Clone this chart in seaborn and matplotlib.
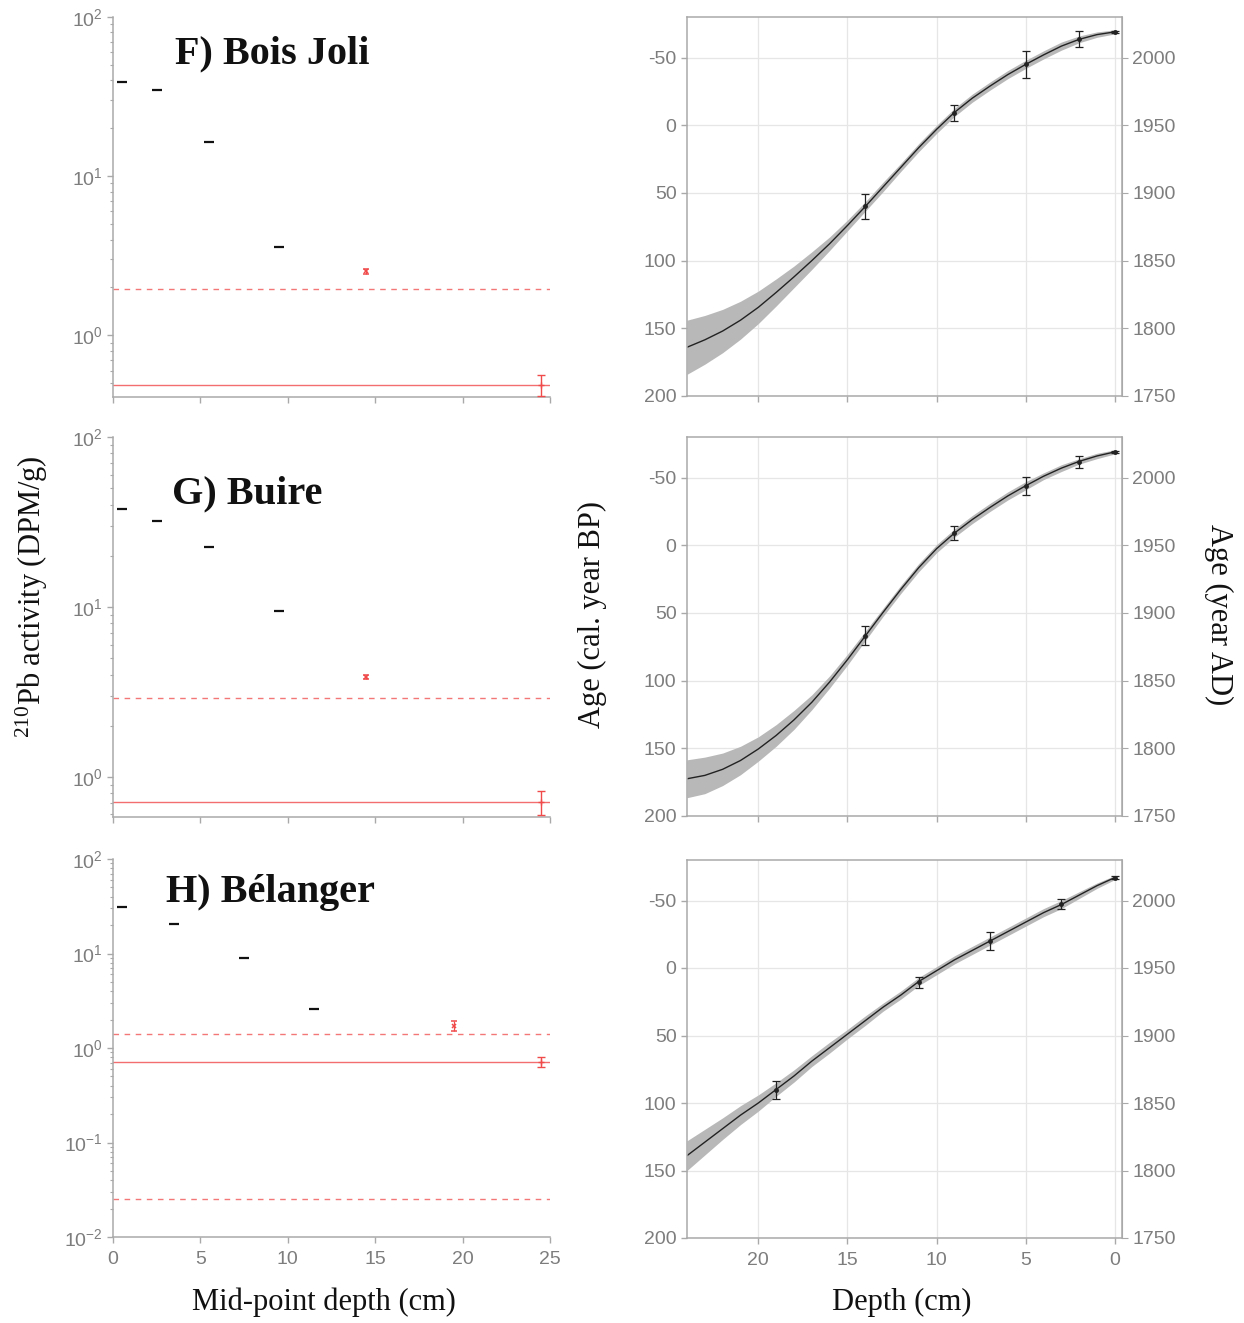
import numpy as np
import pandas as pd
import matplotlib
matplotlib.use("Agg")
import matplotlib.pyplot as plt
import seaborn as sns
from matplotlib.ticker import LogLocator, NullFormatter

sns.set_style("ticks")
plt.rcParams["font.family"] = ["Liberation Sans", "DejaVu Sans"]
plt.rcParams["mathtext.default"] = "regular"
plt.rcParams["axes.unicode_minus"] = False

SERIF = ["Liberation Serif", "DejaVu Serif"]
TICK_GREY = "#7d7d7d"
SPINE_GREY = "#a9a9a9"
RED = "#f04a4a"
LABEL_PT = 22
TICK_PT = 14

site_names = ["F) Bois Joli", "G) Buire", "H) Bélanger"]

# ---- 210Pb activity profiles (DPM/g) ----
bj_pb_depth = [0.5, 2.5, 5.5, 9.5]
bj_pb_activity = [39.0, 35.0, 16.3, 3.6]
bj_excess_depth = [14.5]
bj_excess_activity = [2.52]
bj_excess_err = [0.08]
bj_base_depth = [24.5]
bj_base_activity = [0.49]
bj_base_err = [0.075]
bj_dashed = [1.95]

bu_pb_depth = [0.5, 2.5, 5.5, 9.5]
bu_pb_activity = [37.7, 32.0, 22.5, 9.4]
bu_excess_depth = [14.5]
bu_excess_activity = [3.85]
bu_excess_err = [0.1]
bu_base_depth = [24.5]
bu_base_activity = [0.71]
bu_base_err = [0.115]
bu_dashed = [2.92]

be_pb_depth = [0.5, 3.5, 7.5, 11.5]
be_pb_activity = [31.0, 20.5, 9.0, 2.6]
be_excess_depth = [19.5]
be_excess_activity = [1.71]
be_excess_err = [0.2]
be_base_depth = [24.5]
be_base_activity = [0.715]
be_base_err = [0.085]
be_dashed = [1.42, 0.025]

pb_ylims = [(0.41, 100), (0.58, 100), (0.01, 100)]

# ---- age-depth models (cal. year BP) ----
model_depth = list(range(0, 25))
bj_age_mean = [-69, -67, -63.5, -58.5, -52, -45, -37.5, -29, -20, -9.5, 3,
               16.5, 31, 45.5, 60, 74, 87.5, 100, 112, 123.5, 134.5, 144,
               152, 158.5, 164]
bj_age_half = [1.5, 2, 2.5, 3, 3, 3, 3, 3, 3, 3, 3, 3, 3, 3.5, 3.5, 4, 5,
               6.5, 8, 10, 12, 14, 16, 18, 20]
bu_age_mean = [-69, -66, -62, -57, -51, -44, -36.5, -28, -19, -9, 2.5, 16.5,
               32.5, 49.5, 67, 84.5, 101, 116, 129, 140.5, 150.5, 159, 165.5,
               170, 172.5]
bu_age_half = [1.5, 2, 2, 2.5, 2.5, 3, 3, 3, 3, 3, 3, 3, 3, 3, 3.5, 4, 4.5,
               5.5, 7, 8, 9, 10.5, 12, 13.5, 14]
be_age_mean = [-67, -61, -54, -47, -41, -34, -27, -20, -13, -6, 2, 10, 20,
               29, 39, 49, 59, 69, 80, 90, 100, 109, 119, 129, 139]
be_age_half = [1.5, 2, 2.5, 3, 3, 3, 3, 3, 3, 3, 3, 3, 3, 3, 3.5, 3.5, 4, 4,
               4.5, 5, 6, 7, 8, 9.5, 11]

bj_date_depth = [0, 2, 5, 9, 14]
bj_date_age = [-69, -64, -45, -9, 60]
bj_date_err = [1, 6, 10, 6, 9.5]
bu_date_depth = [0, 2, 5, 9, 14]
bu_date_age = [-69, -61.5, -44, -9, 67]
bu_date_err = [1, 4.5, 6.5, 5, 7]
be_date_depth = [0, 3, 7, 11, 19]
be_date_age = [-67, -47.5, -20, 10.5, 90.5]
be_date_err = [1, 3.5, 7, 4, 6.5]

pb_sets = [
    (bj_pb_depth, bj_pb_activity, bj_excess_depth, bj_excess_activity, bj_excess_err,
     bj_base_depth, bj_base_activity, bj_base_err, bj_dashed),
    (bu_pb_depth, bu_pb_activity, bu_excess_depth, bu_excess_activity, bu_excess_err,
     bu_base_depth, bu_base_activity, bu_base_err, bu_dashed),
    (be_pb_depth, be_pb_activity, be_excess_depth, be_excess_activity, be_excess_err,
     be_base_depth, be_base_activity, be_base_err, be_dashed),
]
age_sets = [
    (bj_age_mean, bj_age_half, bj_date_depth, bj_date_age, bj_date_err),
    (bu_age_mean, bu_age_half, bu_date_depth, bu_date_age, bu_date_err),
    (be_age_mean, be_age_half, be_date_depth, be_date_age, be_date_err),
]

W, H = 1244, 1323
fig = plt.figure(figsize=(W / 100, H / 100), dpi=100)


def fig_rect(x0, y0, x1, y1):
    return [x0 / W, 1 - y1 / H, (x1 - x0) / W, (y1 - y0) / H]


left_rows = [(17, 397), (437, 817), (859, 1237)]
right_rows = [(17, 396), (437, 816), (860, 1238)]
title_pos = [(0.142, 0.879), (0.135, 0.826), (0.121, 0.887)]


def style_ticks(ax):
    ax.tick_params(axis="both", which="both", colors=SPINE_GREY,
                   labelcolor=TICK_GREY, labelsize=TICK_PT, direction="out")
    ax.tick_params(which="major", length=4, width=1)
    ax.tick_params(which="minor", length=2, width=0.8)
    ax.tick_params(axis="x", pad=6)


for i in range(3):
    (pd_x, pd_y, ex_x, ex_y, ex_e, bs_x, bs_y, bs_e, dashed) = pb_sets[i]
    ax = fig.add_axes(fig_rect(113, left_rows[i][0], 550, left_rows[i][1]))
    ax.set_yscale("log")
    for lvl in dashed:
        ax.axhline(lvl, color=RED, lw=1.0, ls=(0, (4, 4)), alpha=0.75, zorder=1)
    ax.axhline(bs_y[0], color=RED, lw=1.0, alpha=0.8, zorder=1)
    sns.scatterplot(x=pd_x, y=pd_y, marker="_", s=45, color="#111111",
                    linewidth=1.6, ax=ax, zorder=3)
    ax.errorbar(ex_x, ex_y, yerr=ex_e, fmt="x", ms=3.5, mew=1.1, color=RED,
                ecolor=RED, elinewidth=0.9, capsize=2, zorder=3)
    ax.errorbar(bs_x, bs_y, yerr=bs_e, fmt="+", ms=4, color=RED, ecolor=RED,
                elinewidth=1.0, capsize=3, zorder=3)
    ax.set_xlim(0, 25)
    ax.set_ylim(*pb_ylims[i])
    ax.set_xticks([0, 5, 10, 15, 20, 25])
    ax.yaxis.set_major_locator(LogLocator(base=10, numticks=10))
    ax.yaxis.set_minor_locator(LogLocator(base=10, subs=np.arange(2, 10), numticks=20))
    ax.yaxis.set_minor_formatter(NullFormatter())
    style_ticks(ax)
    if i < 2:
        ax.tick_params(axis="x", labelbottom=False)
    sns.despine(ax=ax)
    for side in ("left", "bottom"):
        ax.spines[side].set_color(SPINE_GREY)
        ax.spines[side].set_linewidth(1.1)
    ax.text(title_pos[i][0], title_pos[i][1], site_names[i], transform=ax.transAxes,
            fontsize=29, fontweight="bold", family=SERIF, va="baseline", ha="left",
            color="#111111")

    # age-depth model with its uncertainty envelope and dated levels
    mean, half, dd, da, de = age_sets[i]
    mean_a = np.asarray(mean, dtype=float)
    half_a = np.asarray(half, dtype=float)
    ax2 = fig.add_axes(fig_rect(687, right_rows[i][0], 1122, right_rows[i][1]))
    ax2.fill_between(model_depth, mean_a - half_a, mean_a + half_a,
                     color="#b8b8b8", lw=0, zorder=1)
    sns.lineplot(x=model_depth, y=mean, color="#222222", lw=1.0, ax=ax2, zorder=2,
                 solid_joinstyle="round")
    ax2.errorbar(dd, da, yerr=de, fmt="o", ms=2.5, color="#222222",
                 ecolor="#222222", elinewidth=0.9, capsize=3, capthick=0.9, zorder=3)
    ax2.set_xlim(24, -0.4)
    ax2.set_ylim(200, -80)
    ax2.set_xticks([20, 15, 10, 5, 0])
    ax2.set_yticks([-50, 0, 50, 100, 150, 200])
    ax2.grid(True, color="#e6e6e6", lw=0.9)
    ax2.set_axisbelow(True)
    style_ticks(ax2)
    if i < 2:
        ax2.tick_params(axis="x", labelbottom=False)
    for sp in ax2.spines.values():
        sp.set_color(SPINE_GREY)
        sp.set_linewidth(1.1)
    sec = ax2.secondary_yaxis("right", functions=(lambda b: 1950 - b, lambda a: 1950 - a))
    sec.set_yticks([1750, 1800, 1850, 1900, 1950, 2000])
    sec.tick_params(colors=SPINE_GREY, labelcolor=TICK_GREY, labelsize=TICK_PT,
                    length=4, direction="out")
    sec.spines["right"].set_color(SPINE_GREY)

fig.text(32 / W, 1 - 597 / H, "$^{210}$Pb activity (DPM/g)", rotation=90,
         ha="center", va="center", fontsize=LABEL_PT, family=SERIF, color="#111111")
fig.text(592 / W, 1 - 615 / H, "Age (cal. year BP)", rotation=90,
         ha="center", va="center", fontsize=LABEL_PT, family=SERIF, color="#111111")
fig.text(1219 / W, 1 - 615 / H, "Age (year AD)", rotation=270,
         ha="center", va="center", fontsize=LABEL_PT, family=SERIF, color="#111111")
fig.text(324 / W, 1 - 1302 / H, "Mid-point depth (cm)",
         ha="center", va="center", fontsize=LABEL_PT, family=SERIF, color="#111111")
fig.text(902 / W, 1 - 1302 / H, "Depth (cm)",
         ha="center", va="center", fontsize=LABEL_PT, family=SERIF, color="#111111")

fig.savefig("out.png", dpi=100, facecolor="white")
